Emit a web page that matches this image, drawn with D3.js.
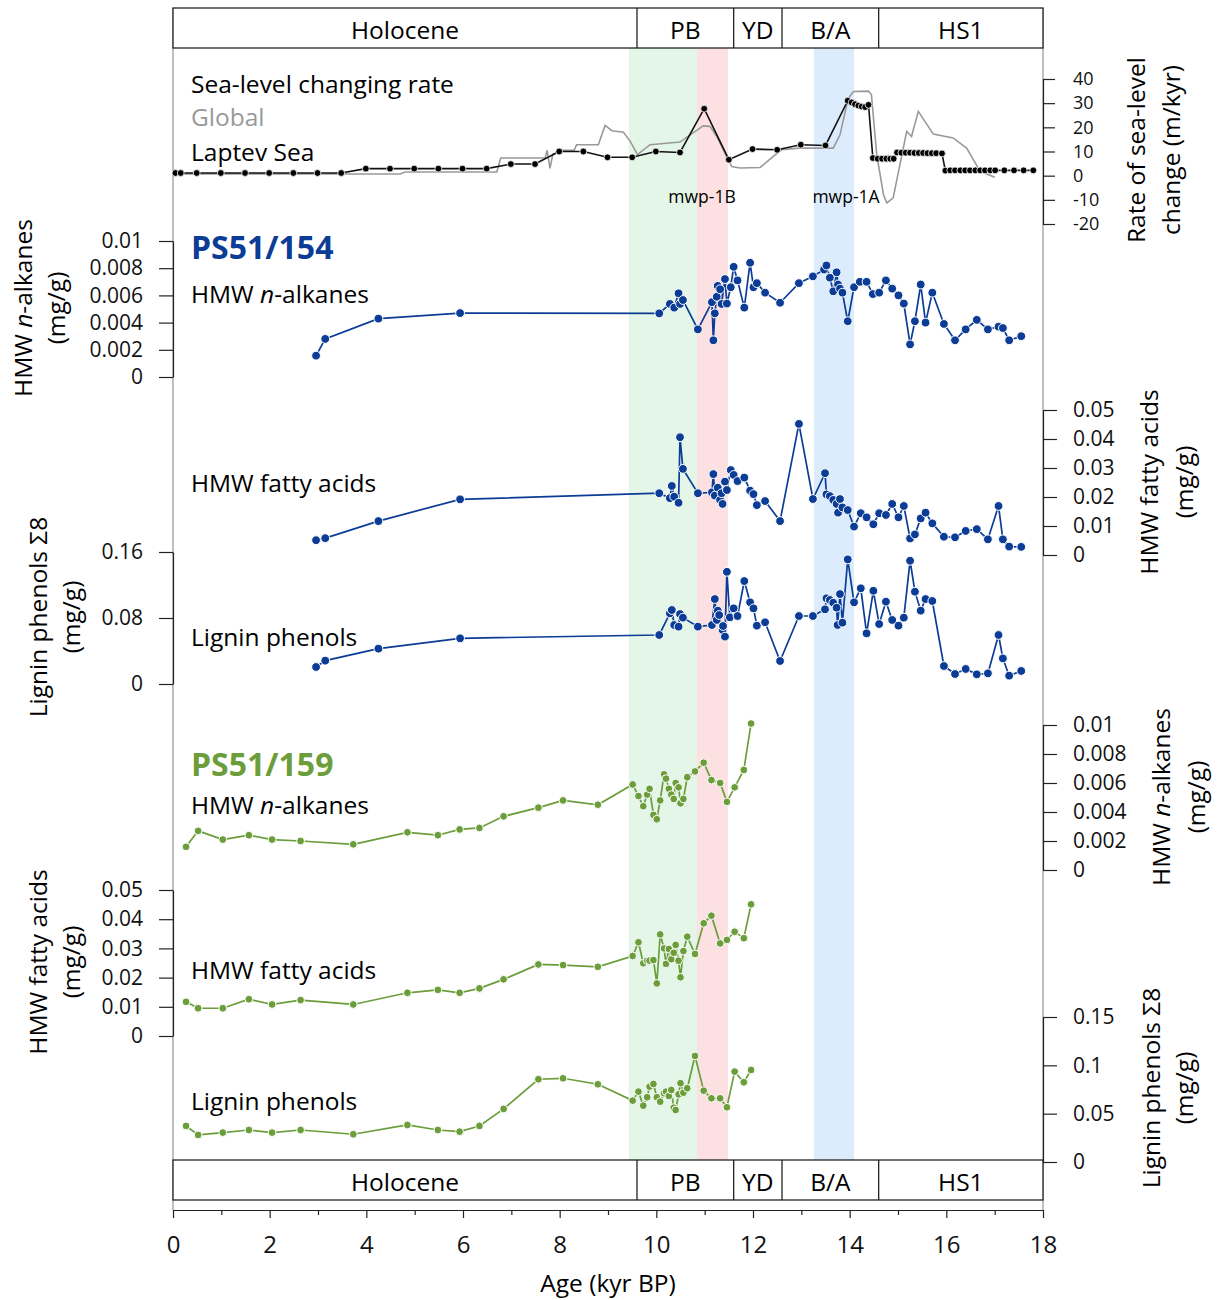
<!DOCTYPE html>
<html>
<head>
<meta charset="utf-8">
<title>Sea level and biomarkers</title>
<script src="https://cdn.jsdelivr.net/npm/d3@7"></script>
<style>
  body { margin: 0; background: #fff; }
  svg { font-family: "Open Sans", "Noto Sans", sans-serif; }
  .axis text { font-size: 21px; fill: #111; font-family: "Open Sans", sans-serif; }
  .axis path, .axis line { stroke: #222; stroke-width: 1.2; }
</style>
</head>
<body>
<script>
// periods shown in the header boxes (kyr BP)
var periods = ["Holocene", "PB", "YD", "B/A", "HS1"];
var periodEdges = [0, 9.6, 11.6, 12.6, 14.6, 18];
// shaded bands
var bandStart = [9.43, 10.84, 13.26];
var bandEnd = [10.84, 11.48, 14.09];
var bandColor = ["#e3f6e8", "#fde0e1", "#dcecfd"];

// sea-level changing rate (m/kyr)
var laptevAge = [0.05, 0.16, 0.49, 0.99, 1.49, 1.99, 2.49, 2.99, 3.48, 3.99, 4.49, 4.99, 5.49, 5.99, 6.49, 6.99, 7.49, 7.99, 8.49,
  8.99, 9.5, 9.99, 10.49, 10.99, 11.5, 11.99, 12.5, 12.99, 13.5,
  13.96, 14.04, 14.11, 14.18, 14.25, 14.32, 14.39,
  14.48, 14.58, 14.67, 14.76, 14.84, 14.91,
  14.98, 15.07, 15.16, 15.25, 15.34, 15.43, 15.52, 15.61, 15.7, 15.79, 15.91,
  15.98, 16.08, 16.18, 16.29, 16.39, 16.49, 16.6, 16.7, 16.8, 16.91, 17.01, 17.2, 17.4, 17.6, 17.8];
var laptevRate = [1.1, 1.1, 1.1, 1.1, 1.1, 1.1, 1.1, 1.1, 1.1, 2.9, 2.9, 2.9, 2.9, 2.9, 2.9, 4.8, 4.8, 10, 10,
  7.6, 7.6, 10, 9.6, 27.7, 6.6, 11, 10.7, 12.8, 12.5,
  31, 30.3, 29.6, 29.0, 28.6, 28.4, 29.3,
  7.3, 7.0, 7.0, 7.0, 7.0, 7.0,
  9.6, 9.5, 9.5, 9.5, 9.4, 9.4, 9.4, 9.3, 9.3, 9.3, 9.2,
  2.1, 2.2, 2.2, 2.2, 2.2, 2.2, 2.2, 2.2, 2.2, 2.2, 2.2, 2.2, 2.2, 2.2, 2.2];
var globalAge = [0, 4.7, 4.8, 6.7, 6.78, 7.7, 7.74, 7.8, 7.86, 7.95, 8.05, 8.3, 8.35, 8.8, 8.94, 9.08, 9.32, 9.46, 9.61, 9.87,
  10.49, 10.7, 10.97, 11.11, 11.25, 11.56, 11.73, 12.15, 12.42, 12.59, 12.97, 13.66, 13.8, 13.97, 14.08, 14.39, 14.45,
  14.56, 14.7, 14.77, 14.9, 15.18, 15.28, 15.42, 15.73, 16.14, 16.42, 16.7, 17.0];
var globalRate = [0.7, 0.7, 1.5, 1.5, 7.3, 7.3, 10.5, 3.0, 9.0, 9.5, 10.5, 10.5, 12.8, 12.8, 20.8, 18.6, 18, 14.2, 8.7, 12.8,
  13.9, 16.9, 20.6, 20.4, 16.2, 3.8, 3.2, 3.4, 8, 10.7, 11.4, 11.4, 16.9, 32, 34.8, 35, 33.5,
  8.7, -7.9, -11.3, -9.2, 18.3, 16.2, 26.6, 17.2, 15.6, 11.4, 1.8, -0.7];

// PS51/154 (mg/g)
var alk154 = [[2.96,0.00157],[3.15,0.0028],[4.25,0.00429],[5.94,0.0047],[10.06,0.00468],[10.28,0.00537],[10.37,0.0051],
  [10.46,0.00615],[10.49,0.00537],[10.55,0.00566],[10.86,0.0035],[11.15,0.0055],[11.18,0.0027],[11.21,0.00468],[11.25,0.0059],
  [11.27,0.0067],[11.32,0.00645],[11.35,0.00537],[11.42,0.0072],[11.46,0.0054],[11.54,0.0066],[11.6,0.0081],[11.68,0.0071],
  [11.82,0.0051],[11.94,0.0084],[12.01,0.0066],[12.08,0.0069],[12.25,0.0062],[12.56,0.00546],[12.95,0.0069],[13.24,0.0074],
  [13.47,0.0079],[13.52,0.0082],[13.59,0.0073],[13.66,0.0063],[13.73,0.0077],[13.76,0.0068],[13.8,0.0065],[13.85,0.0062],
  [13.96,0.0041],[14.09,0.0066],[14.21,0.007],[14.35,0.007],[14.48,0.0061],[14.61,0.0062],[14.75,0.0071],[14.88,0.0065],
  [15.01,0.006],[15.12,0.0054],[15.25,0.0024],[15.35,0.0041],[15.47,0.0068],[15.57,0.004],[15.71,0.0062],[15.95,0.0039],
  [16.18,0.0027],[16.4,0.0035],[16.63,0.0042],[16.86,0.0035],[17.08,0.0037],[17.17,0.0036],[17.3,0.0027],[17.55,0.003]];
var fa154 = [[2.96,0.0051],[3.15,0.0058],[4.25,0.0117],[5.94,0.0192],[10.06,0.0213],[10.28,0.0196],[10.32,0.0238],
  [10.37,0.0201],[10.46,0.018],[10.49,0.0406],[10.55,0.0297],[10.86,0.0213],[11.15,0.0216],[11.18,0.0279],[11.21,0.0205],
  [11.27,0.0232],[11.32,0.019],[11.35,0.0213],[11.37,0.0176],[11.42,0.0253],[11.46,0.0224],[11.54,0.0293],[11.6,0.0276],
  [11.68,0.0255],[11.82,0.0267],[11.94,0.0222],[12.01,0.021],[12.08,0.0172],[12.25,0.0186],[12.56,0.0117],[12.95,0.0452],
  [13.24,0.0193],[13.49,0.0282],[13.52,0.0209],[13.59,0.0203],[13.66,0.019],[13.73,0.0176],[13.76,0.0146],[13.8,0.0193],
  [13.85,0.0164],[13.96,0.0155],[14.09,0.0098],[14.23,0.0144],[14.35,0.013],[14.49,0.0106],[14.61,0.0144],[14.75,0.0138],
  [14.88,0.0176],[15.01,0.013],[15.12,0.0169],[15.25,0.0057],[15.35,0.0071],[15.47,0.0126],[15.57,0.0146],[15.71,0.0109],
  [15.95,0.0063],[16.18,0.0061],[16.4,0.0083],[16.63,0.0089],[16.86,0.0054],[17.08,0.0169],[17.17,0.0054],[17.3,0.0029],[17.55,0.0028]];
var lig154 = [[2.96,0.0206],[3.15,0.0283],[4.25,0.0428],[5.94,0.0554],[10.06,0.0594],[10.28,0.0857],[10.32,0.0897],
  [10.37,0.0715],[10.46,0.0695],[10.49,0.0848],[10.55,0.0804],[10.86,0.0695],[11.15,0.0715],[11.21,0.103],[11.25,0.0776],
  [11.27,0.0889],[11.3,0.0836],[11.37,0.0655],[11.38,0.0703],[11.42,0.0574],[11.46,0.136],[11.52,0.0808],[11.6,0.0917],
  [11.68,0.0824],[11.82,0.1248],[11.94,0.099],[12.01,0.0917],[12.08,0.0707],[12.25,0.0748],[12.56,0.0279],[12.95,0.0824],
  [13.24,0.0824],[13.49,0.0905],[13.52,0.1039],[13.59,0.1018],[13.66,0.0985],[13.73,0.0925],[13.75,0.0715],[13.8,0.109],
  [13.85,0.0743],[13.96,0.151],[14.09,0.099],[14.23,0.116],[14.35,0.0614],[14.49,0.113],[14.61,0.0727],[14.75,0.0998],
  [14.88,0.0776],[15.01,0.0707],[15.12,0.0804],[15.25,0.1494],[15.35,0.1119],[15.47,0.0889],[15.57,0.103],[15.71,0.1006],
  [15.95,0.0218],[16.18,0.0121],[16.4,0.0182],[16.63,0.0117],[16.86,0.0129],[17.08,0.0594],[17.17,0.031],[17.3,0.0101],[17.55,0.0158]];

// PS51/159 (mg/g), one age list for all three series
var age159 = [0.27, 0.52, 1.03, 1.57, 2.05, 2.64, 3.73, 4.85, 5.48, 5.93, 6.34, 6.84, 7.56, 8.07, 8.79, 9.51, 9.63, 9.73,
  9.81, 9.86, 9.94, 10.01, 10.08, 10.16, 10.2, 10.26, 10.31, 10.36, 10.4, 10.46, 10.5, 10.56, 10.64, 10.8, 10.98, 11.14,
  11.32, 11.46, 11.62, 11.81, 11.96];
var alk159 = [0.0016, 0.0027, 0.0021, 0.0024, 0.0021, 0.002, 0.00177, 0.0026, 0.0024, 0.0028, 0.0029, 0.0037, 0.0043, 0.0048,
  0.0045, 0.0059, 0.0051, 0.0044, 0.0052, 0.0056, 0.0038, 0.0035, 0.0048, 0.0066, 0.0063, 0.0056, 0.0052, 0.0049, 0.006,
  0.0057, 0.0046, 0.0049, 0.0064, 0.0068, 0.0074, 0.0062, 0.006, 0.0047, 0.0057, 0.0069, 0.0101];
var fa159 = [0.0117, 0.0095, 0.0095, 0.0126, 0.0108, 0.0123, 0.0108, 0.0148, 0.0158, 0.0148, 0.0163, 0.0194, 0.0245, 0.0243,
  0.0237, 0.0274, 0.0321, 0.0249, 0.0258, 0.0258, 0.026, 0.018, 0.0348, 0.03, 0.0247, 0.0298, 0.0263, 0.0285, 0.0312,
  0.0258, 0.0201, 0.0291, 0.034, 0.0281, 0.0386, 0.0412, 0.0317, 0.0329, 0.0357, 0.0335, 0.0451];
var lig159 = [0.0373, 0.028, 0.0304, 0.0331, 0.0304, 0.0331, 0.0287, 0.0383, 0.0331, 0.0314, 0.0373, 0.0549, 0.0856, 0.0866,
  0.0804, 0.0635, 0.0728, 0.0583, 0.067, 0.078, 0.0807, 0.067, 0.0624, 0.0711, 0.0728, 0.0683, 0.0745, 0.0562, 0.0538,
  0.07, 0.0815, 0.0717, 0.0763, 0.1097, 0.0738, 0.0659, 0.0659, 0.0566, 0.0935, 0.0825, 0.0952];

var blue = "#0b3c96", green = "#6b9d3b";
var fs = "24.5px";

var svg = d3.select("body").append("svg").attr("width", 1221).attr("height", 1300);

var x = d3.scaleLinear().domain([0, 18]).range([173, 1043]);

// shaded bands
bandStart.forEach(function(s, i) {
  svg.append("rect").attr("x", x(s)).attr("y", 48).attr("width", x(bandEnd[i]) - x(s)).attr("height", 1112)
    .attr("fill", bandColor[i]);
});

// frame
svg.append("line").attr("x1", 173).attr("x2", 173).attr("y1", 8).attr("y2", 1210).attr("stroke", "#aaa").attr("stroke-width", 1.5);
svg.append("line").attr("x1", 1043).attr("x2", 1043).attr("y1", 8).attr("y2", 1210).attr("stroke", "#aaa").attr("stroke-width", 1.5);

// header boxes
function header(y0) {
  svg.append("rect").attr("x", 173).attr("y", y0).attr("width", 870).attr("height", 40)
    .attr("fill", "#fff").attr("stroke", "#222").attr("stroke-width", 1.3);
  periodEdges.slice(1, -1).forEach(function(e) {
    svg.append("line").attr("x1", x(e)).attr("x2", x(e)).attr("y1", y0).attr("y2", y0 + 40).attr("stroke", "#222").attr("stroke-width", 1.3);
  });
  periods.forEach(function(p, i) {
    svg.append("text").attr("x", (x(periodEdges[i]) + x(periodEdges[i + 1])) / 2).attr("y", y0 + 30.5)
      .attr("text-anchor", "middle").style("font-size", fs).text(p);
  });
}
header(8);
header(1160);

// bottom axis
var xAxis = svg.append("g").attr("class", "axis").attr("transform", "translate(0,1210)")
  .call(d3.axisBottom(x).tickValues(d3.range(0, 19, 2)).tickSize(8).tickPadding(18).tickSizeOuter(0));
xAxis.selectAll("text").style("font-size", "24px");
svg.append("g").attr("class", "axis").attr("transform", "translate(0,1210)")
  .call(d3.axisBottom(x).tickValues(d3.range(1, 18, 2)).tickSize(5).tickFormat(""))
  .select(".domain").remove();
svg.append("text").attr("x", 608).attr("y", 1292).attr("text-anchor", "middle").style("font-size", fs).text("Age (kyr BP)");

function fmt(d) { return d === 0 ? "0" : String(+d.toFixed(4)); }

function yAxis(scale, vals, side) {
  var xpos = side === "left" ? 173 : 1043;
  var ax = side === "left" ? d3.axisLeft(scale) : d3.axisRight(scale);
  svg.append("g").attr("class", "axis").attr("transform", "translate(" + xpos + ",0)")
    .call(ax.tickValues(vals).tickFormat(fmt).tickSize(14).tickPadding(16).tickSizeOuter(0));
}

function axisTitle(cx, cy, lines, gap) {
  lines.forEach(function(l, i) {
    var t = svg.append("text").attr("transform", "translate(" + (cx + i * gap) + "," + cy + ") rotate(-90)")
      .attr("text-anchor", "middle").attr("dominant-baseline", "central").style("font-size", fs);
    if (Array.isArray(l)) {
      l.forEach(function(p) { t.append("tspan").style("font-style", p[1] ? "italic" : "normal").text(p[0]); });
    } else t.text(l);
  });
}

var nAlk = [["HMW ", 0], ["n", 1], ["-alkanes", 0]];

// sea-level panel
var ySea = d3.scaleLinear().domain([-20, 40]).range([224, 79]);
var seaAxis = svg.append("g").attr("class", "axis").attr("transform", "translate(1043,0)")
  .call(d3.axisRight(ySea).tickValues(d3.range(-20, 41, 10)).tickFormat(function(d) { return String(d); })
    .tickSize(12).tickPadding(18).tickSizeOuter(0));
seaAxis.selectAll("text").style("font-size", "18px");
axisTitle(1135, 150, ["Rate of sea-level", "change (m/kyr)"], 35);

svg.append("path").datum(d3.zip(globalAge, globalRate))
  .attr("d", d3.line().x(function(d) { return x(d[0]); }).y(function(d) { return ySea(d[1]); }))
  .attr("fill", "none").attr("stroke", "#999").attr("stroke-width", 1.6);
var laptev = d3.zip(laptevAge, laptevRate);
svg.append("path").datum(laptev)
  .attr("d", d3.line().x(function(d) { return x(d[0]); }).y(function(d) { return ySea(d[1]); }))
  .attr("fill", "none").attr("stroke", "#111").attr("stroke-width", 1.6);
svg.append("g").selectAll("circle").data(laptev).enter().append("circle")
  .attr("cx", function(d) { return x(d[0]); }).attr("cy", function(d) { return ySea(d[1]); })
  .attr("r", 3.4).attr("fill", "#000").attr("stroke", "#fff").attr("stroke-width", 0.8);

svg.append("text").attr("x", 191).attr("y", 92.5).style("font-size", fs).text("Sea-level changing rate");
svg.append("text").attr("x", 191).attr("y", 126).style("font-size", fs).attr("fill", "#999").text("Global");
svg.append("text").attr("x", 191).attr("y", 161).style("font-size", fs).text("Laptev Sea");
svg.append("text").attr("x", 702).attr("y", 203).attr("text-anchor", "middle").style("font-size", "17.5px").text("mwp-1B");
svg.append("text").attr("x", 846).attr("y", 203).attr("text-anchor", "middle").style("font-size", "17.5px").text("mwp-1A");

function series(data, y, color, r) {
  svg.append("path").datum(data)
    .attr("d", d3.line().x(function(d) { return x(d[0]); }).y(function(d) { return y(d[1]); }))
    .attr("fill", "none").attr("stroke", color).attr("stroke-width", 1.7);
  svg.append("g").selectAll("circle").data(data).enter().append("circle")
    .attr("cx", function(d) { return x(d[0]); }).attr("cy", function(d) { return y(d[1]); })
    .attr("r", r).attr("fill", color).attr("stroke", "#fff").attr("stroke-width", 1);
}

function label(y, parts) {
  var t = svg.append("text").attr("x", 191).attr("y", y).style("font-size", fs);
  parts.forEach(function(p) { t.append("tspan").style("font-style", p[1] ? "italic" : "normal").text(p[0]); });
}

// PS51/154
var yAlk154 = d3.scaleLinear().domain([0, 0.01]).range([377, 241]);
var yFa154 = d3.scaleLinear().domain([0, 0.05]).range([555, 410]);
var yLig154 = d3.scaleLinear().domain([0, 0.16]).range([684, 552]);
yAxis(yAlk154, [0, 0.002, 0.004, 0.006, 0.008, 0.01], "left");
yAxis(yFa154, [0, 0.01, 0.02, 0.03, 0.04, 0.05], "right");
yAxis(yLig154, [0, 0.08, 0.16], "left");
axisTitle(22, 308, [nAlk, "(mg/g)"], 33);
axisTitle(1148, 482, ["HMW  fatty acids", "(mg/g)"], 35);
axisTitle(37, 617, ["Lignin phenols Σ8", "(mg/g)"], 33);
series(alk154, yAlk154, blue, 4.4);
series(fa154, yFa154, blue, 4.4);
series(lig154, yLig154, blue, 4.4);
svg.append("text").attr("x", 191).attr("y", 259).style("font-size", "32px").style("font-weight", "bold")
  .attr("fill", blue).text("PS51/154");
label(302.5, nAlk);
label(491.5, [["HMW fatty acids", 0]]);
label(645.5, [["Lignin phenols", 0]]);

// PS51/159
var yAlk159 = d3.scaleLinear().domain([0, 0.01]).range([870, 725]);
var yFa159 = d3.scaleLinear().domain([0, 0.05]).range([1036, 890]);
var yLig159 = d3.scaleLinear().domain([0, 0.15]).range([1162, 1017]);
yAxis(yAlk159, [0, 0.002, 0.004, 0.006, 0.008, 0.01], "right");
yAxis(yFa159, [0, 0.01, 0.02, 0.03, 0.04, 0.05], "left");
yAxis(yLig159, [0, 0.05, 0.1, 0.15], "right");
axisTitle(1160, 797, [nAlk, "(mg/g)"], 35);
axisTitle(37, 962, ["HMW  fatty acids", "(mg/g)"], 33);
axisTitle(1150, 1088, ["Lignin phenols Σ8", "(mg/g)"], 33);
series(d3.zip(age159, alk159), yAlk159, green, 3.9);
series(d3.zip(age159, fa159), yFa159, green, 3.9);
series(d3.zip(age159, lig159), yLig159, green, 3.9);
svg.append("text").attr("x", 191).attr("y", 776).style("font-size", "32px").style("font-weight", "bold")
  .attr("fill", green).text("PS51/159");
label(813.5, nAlk);
label(978.5, [["HMW fatty acids", 0]]);
label(1109.5, [["Lignin phenols", 0]]);
</script>
</body>
</html>
